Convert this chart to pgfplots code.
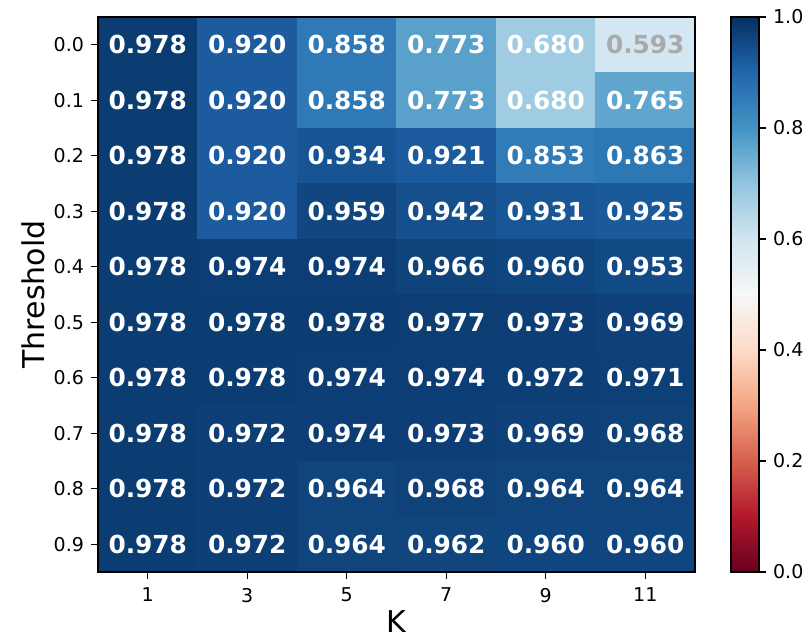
\documentclass[border=0pt]{standalone}
\usepackage{fontspec}
\setmainfont{DejaVu Sans}
\usepackage{pgfplots}
\usepackage{pgfplotstable}
\pgfplotsset{compat=1.18}
\pgfplotstableread{
x y v
0 0 0.978
1 0 0.920
2 0 0.858
3 0 0.773
4 0 0.680
5 0 0.593
0 1 0.978
1 1 0.920
2 1 0.858
3 1 0.773
4 1 0.680
5 1 0.765
0 2 0.978
1 2 0.920
2 2 0.934
3 2 0.921
4 2 0.853
5 2 0.863
0 3 0.978
1 3 0.920
2 3 0.959
3 3 0.942
4 3 0.931
5 3 0.925
0 4 0.978
1 4 0.974
2 4 0.974
3 4 0.966
4 4 0.960
5 4 0.953
0 5 0.978
1 5 0.978
2 5 0.978
3 5 0.977
4 5 0.973
5 5 0.969
0 6 0.978
1 6 0.978
2 6 0.974
3 6 0.974
4 6 0.972
5 6 0.971
0 7 0.978
1 7 0.972
2 7 0.974
3 7 0.973
4 7 0.969
5 7 0.968
0 8 0.978
1 8 0.972
2 8 0.964
3 8 0.968
4 8 0.964
5 8 0.964
0 9 0.978
1 9 0.972
2 9 0.964
3 9 0.962
4 9 0.960
5 9 0.960
}\datatable
\begin{document}
\begin{tikzpicture}
\path[use as bounding box] (-49pt,-34.5pt) rectangle (355pt,286pt);
\begin{axis}[
  at={(0,0)}, anchor=south west,
  scale only axis,
  width=298.5pt, height=277.5pt,
  xmin=-0.5, xmax=5.5, ymin=-0.5, ymax=9.5,
  y dir=reverse,
  enlargelimits=false,
  axis on top,
  xtick={0,1,2,3,4,5}, xticklabels={1,3,5,7,9,11},
  ytick={0,...,9}, yticklabels={0.0,0.1,0.2,0.3,0.4,0.5,0.6,0.7,0.8,0.9},
  xtick pos=bottom, ytick pos=left,
  tick align=outside,
  major tick length=3.5pt,
  every tick/.style={black, line width=0.6pt},
  axis line style={line width=0.8pt},
  tick label style={font=\fontsize{9.5}{11}\selectfont},
  /pgf/number format/assume math mode=true,
  xlabel={K}, ylabel={Threshold},
  label style={font=\fontsize{15}{18}\selectfont},
  xlabel style={at={(axis description cs:0.5,0)}, anchor=north, yshift=-16pt},
  ylabel style={at={(axis description cs:0,0.5)}, anchor=south, yshift=23pt},
  xticklabel style={yshift=-1pt},
  colormap={RdBu}{rgb255=(103,0,31) rgb255=(178,24,43) rgb255=(214,96,77) rgb255=(244,165,130) rgb255=(253,219,199) rgb255=(247,247,247) rgb255=(209,229,240) rgb255=(146,197,222) rgb255=(67,147,195) rgb255=(33,102,172) rgb255=(5,48,97)},
  point meta min=0, point meta max=1,
  colorbar,
  colorbar style={
    at={(parent axis.north east)}, anchor=north west, xshift=9.5pt,
    width=14pt,
    ytick={0,0.2,0.4,0.6,0.8,1.0},
    yticklabels={0.0,0.2,0.4,0.6,0.8,1.0},
    tick align=outside,
    major tick length=3.5pt,
    ytick pos=right,
    yticklabel pos=right,
    tick label style={font=\fontsize{9.5}{11}\selectfont},
    axis line style={line width=0.8pt},
    /pgf/number format/assume math mode=true,
  },
]
\addplot[matrix plot*, mesh/cols=6, mesh/ordering=x varies, point meta=explicit, shader=flat corner]
  table[x=x, y=y, meta=v] {\datatable};
\addplot[draw=none, mark=none, nodes near coords, nodes near coords align=center,
  point meta=explicit symbolic,
  restrict expr to domain={\thisrow{v}}{0.6:1},
  every node near coord/.style={anchor=center, text=white, font=\fontsize{12.4}{14}\selectfont\bfseries}]
  table[x=x, y=y, meta=v] {\datatable};
\addplot[draw=none, mark=none, nodes near coords, nodes near coords align=center,
  point meta=explicit symbolic,
  restrict expr to domain={\thisrow{v}}{0:0.6},
  every node near coord/.style={anchor=center, text={rgb,255:red,170;green,170;blue,170}, font=\fontsize{12.4}{14}\selectfont\bfseries}]
  table[x=x, y=y, meta=v] {\datatable};
\end{axis}
\end{tikzpicture}
\end{document}
